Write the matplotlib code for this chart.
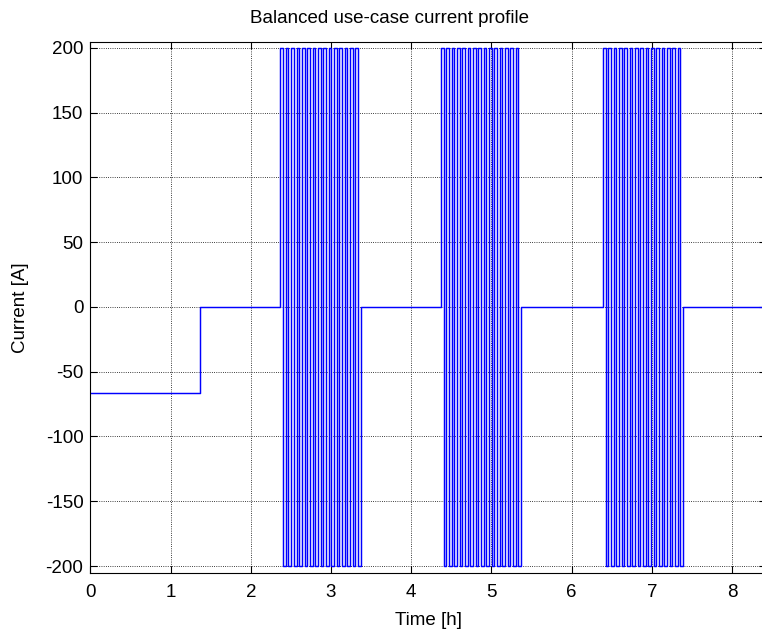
import numpy as np
import matplotlib
matplotlib.use("Agg")
import matplotlib.pyplot as plt

plt.rcParams['font.family'] = ['Liberation Sans', 'DejaVu Sans']
plt.rcParams['axes.unicode_minus'] = False

# 曲线数据（小时, 安培）
t_step = 1.37          # 放电结束时刻
i_discharge = -66.7    # 初始放电电流
block_starts = [2.37, 4.37, 6.39]   # 三段脉冲起始时刻
block_len = 1.0                     # 每段脉冲持续时间
n_periods = 15                      # 每段脉冲周期数
pulse_amp = [200, -200]             # 单个周期内的正负电流
t_end = 8.6

# 拼出阶梯序列
t = [0.0, t_step]
i = [i_discharge, 0.0]
for s in block_starts:
    t.append(s)
    i.append(0.0)
    half = block_len / n_periods / 2
    for k in range(n_periods):
        for j, a in enumerate(pulse_amp):
            t.append(s + (2 * k + j) * half)
            i.append(a)
    t.append(s + block_len)
    i.append(0.0)
t.append(t_end)
i.append(0.0)

fig = plt.figure(figsize=(7.62, 6.34), dpi=100)
ax = fig.add_axes([90.4 / 762, 61 / 634, (766 - 90.4) / 762, (573 - 41.5) / 634])
ax.step(t, i, where='post', color='blue', lw=1.05)

ax.set_xlim(0, (766 - 90.4) / 80.2)
ax.set_ylim(-205.4, 204.8)
ax.set_xticks(np.arange(0, 9, 1))
ax.set_yticks(np.arange(-200, 201, 50))
ax.grid(True, color='black', linestyle=':', linewidth=0.6)
ax.tick_params(direction='in', top=True, right=True, length=5, labelsize=13.5, pad=5)
ax.tick_params(axis='x', pad=8)
for sp in ax.spines.values():
    sp.set_linewidth(0.8)

ax.set_title('Balanced use-case current profile', fontsize=13.5, pad=13,
             x=(390 - 90.4) / (766 - 90.4))
ax.set_xlabel('Time [h]', fontsize=13.5, labelpad=8)
ax.set_ylabel('Current [A]', fontsize=13.5, labelpad=12)

fig.savefig('out.png', dpi=100)
